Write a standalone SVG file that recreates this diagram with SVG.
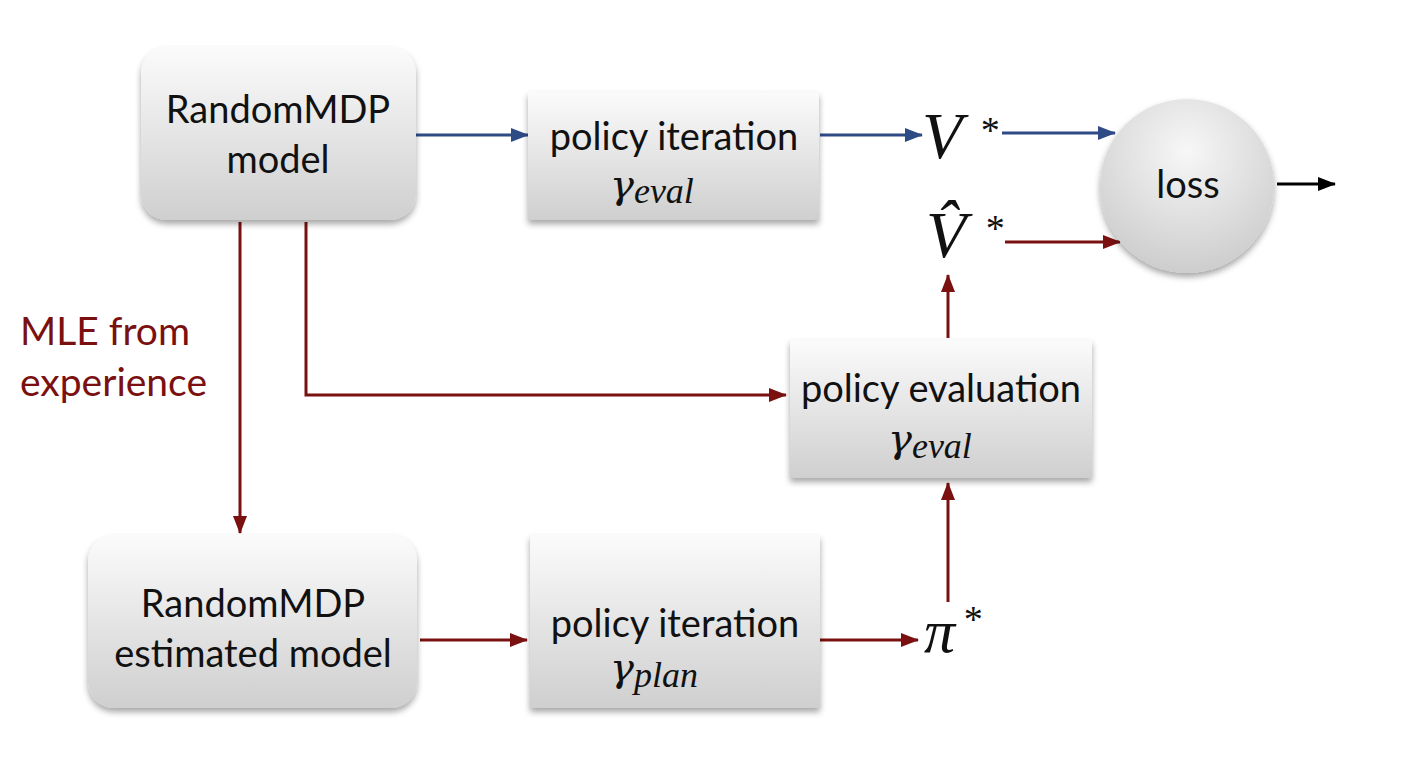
<svg xmlns="http://www.w3.org/2000/svg" width="1409" height="761" viewBox="0 0 1409 761">
<defs>
<linearGradient id="g" x1="0" y1="0" x2="0" y2="1">
<stop offset="0" stop-color="#fbfbfb"/>
<stop offset="1" stop-color="#cfcfcf"/>
</linearGradient>
<radialGradient id="gc" cx="0.5" cy="0.3" r="0.7">
<stop offset="0" stop-color="#f7f7f7"/>
<stop offset="1" stop-color="#cdcdcd"/>
</radialGradient>
<filter id="sh" x="-10%" y="-10%" width="120%" height="130%">
<feDropShadow dx="0" dy="4" stdDeviation="3" flood-color="#000" flood-opacity="0.35"/>
</filter>
<marker id="ar" markerWidth="18" markerHeight="14" refX="17" refY="7" orient="auto" markerUnits="userSpaceOnUse" viewBox="0 0 18 14"><path d="M0,0 L18,7 L0,14 z" fill="#7a1010"/></marker>
<marker id="abl" markerWidth="18" markerHeight="14" refX="17" refY="7" orient="auto" markerUnits="userSpaceOnUse" viewBox="0 0 18 14"><path d="M0,0 L18,7 L0,14 z" fill="#2e4b86"/></marker>
<marker id="ak" markerWidth="18" markerHeight="14" refX="17" refY="7" orient="auto" markerUnits="userSpaceOnUse" viewBox="0 0 18 14"><path d="M0,0 L18,7 L0,14 z" fill="#000"/></marker>
</defs>
<style>
.box{fill:url(#g);filter:url(#sh);}
.t{font-family:Lato,"Open Sans","Liberation Sans",sans-serif;font-size:38px;fill:#111;text-anchor:middle;}
.m{font-family:"Liberation Serif","DejaVu Serif",serif;font-style:italic;fill:#111;}
.g{font-family:"DejaVu Serif","Liberation Serif",serif;font-style:italic;font-size:40px;}
.s{font-family:"Liberation Serif",serif;font-style:italic;font-size:36px;}
.red{stroke:#7a1010;stroke-width:3;fill:none;}
.blue{stroke:#2e4b86;stroke-width:3;fill:none;}
.lab{font-family:Lato,"Open Sans","Liberation Sans",sans-serif;font-size:39px;fill:#7a1010;}
</style>
<g id="connectors">
<line class="blue" x1="416" y1="135" x2="528" y2="135" marker-end="url(#abl)"/>
<line class="blue" x1="820" y1="135" x2="922" y2="135" marker-end="url(#abl)"/>
<line class="blue" x1="1002" y1="133" x2="1115" y2="133" marker-end="url(#abl)"/>
<line class="red" x1="1005" y1="242" x2="1120" y2="242" marker-end="url(#ar)"/>
<line x1="1277" y1="184" x2="1335" y2="184" stroke="#000" stroke-width="3" marker-end="url(#ak)"/>
<line class="red" x1="240" y1="222" x2="240" y2="533" marker-end="url(#ar)"/>
<polyline class="red" points="306,222 306,395 786,395" marker-end="url(#ar)"/>
<line class="red" x1="948" y1="338" x2="948" y2="275" marker-end="url(#ar)"/>
<line class="red" x1="948" y1="602" x2="948" y2="483" marker-end="url(#ar)"/>
<line class="red" x1="420" y1="640" x2="527" y2="640" marker-end="url(#ar)"/>
<line class="red" x1="820" y1="640" x2="918" y2="640" marker-end="url(#ar)"/>
</g>
<g id="n-model">
<rect class="box" x="141" y="47" width="275" height="173" rx="26"/>
<text class="t" x="278" y="123">RandomMDP</text>
<text class="t" x="278" y="173">model</text>
</g>
<g id="n-pi-top">
<rect class="box" x="528" y="92" width="291" height="128"/>
<text class="t" x="674" y="150">policy iteration</text>
<text class="m" x="610" y="198"><tspan class="g">γ</tspan><tspan class="s" dy="5">eval</tspan></text>
</g>
<g id="n-vstar">
<text class="m" x="922" y="158" font-size="66">V</text>
<text class="m" x="979" y="143" font-size="38" font-style="normal">*</text>
</g>
<g id="n-vhat">
<text class="m" x="926" y="257" font-size="66">V̂</text>
<text class="m" x="984" y="241" font-size="38" font-style="normal">*</text>
</g>
<g id="n-loss">
<circle cx="1187" cy="186" r="87" fill="url(#gc)" filter="url(#sh)"/>
<text class="t" x="1188" y="198">loss</text>
</g>
<g id="n-eval">
<rect class="box" x="790" y="340" width="302" height="138"/>
<text class="t" x="941" y="402">policy evaluation</text>
<text class="m" x="888" y="452"><tspan class="g">γ</tspan><tspan class="s" dy="6">eval</tspan></text>
</g>
<g id="n-est">
<rect class="box" x="88" y="535" width="329" height="173" rx="26"/>
<text class="t" x="253" y="617">RandomMDP</text>
<text class="t" x="253" y="667">estimated model</text>
</g>
<g id="n-pi-bot">
<rect class="box" x="530" y="535" width="290" height="173"/>
<text class="t" x="675" y="637">policy iteration</text>
<text class="m" x="610" y="681"><tspan class="g">γ</tspan><tspan class="s" dy="6">plan</tspan></text>
</g>
<g id="n-pistar">
<text class="m" x="924" y="652" font-size="62">π</text>
<text class="m" x="962" y="632" font-size="38" font-style="normal">*</text>
</g>
<g id="label">
<text class="lab" x="20" y="345">MLE from</text>
<text class="lab" x="20" y="396">experience</text>
</g>
</svg>
